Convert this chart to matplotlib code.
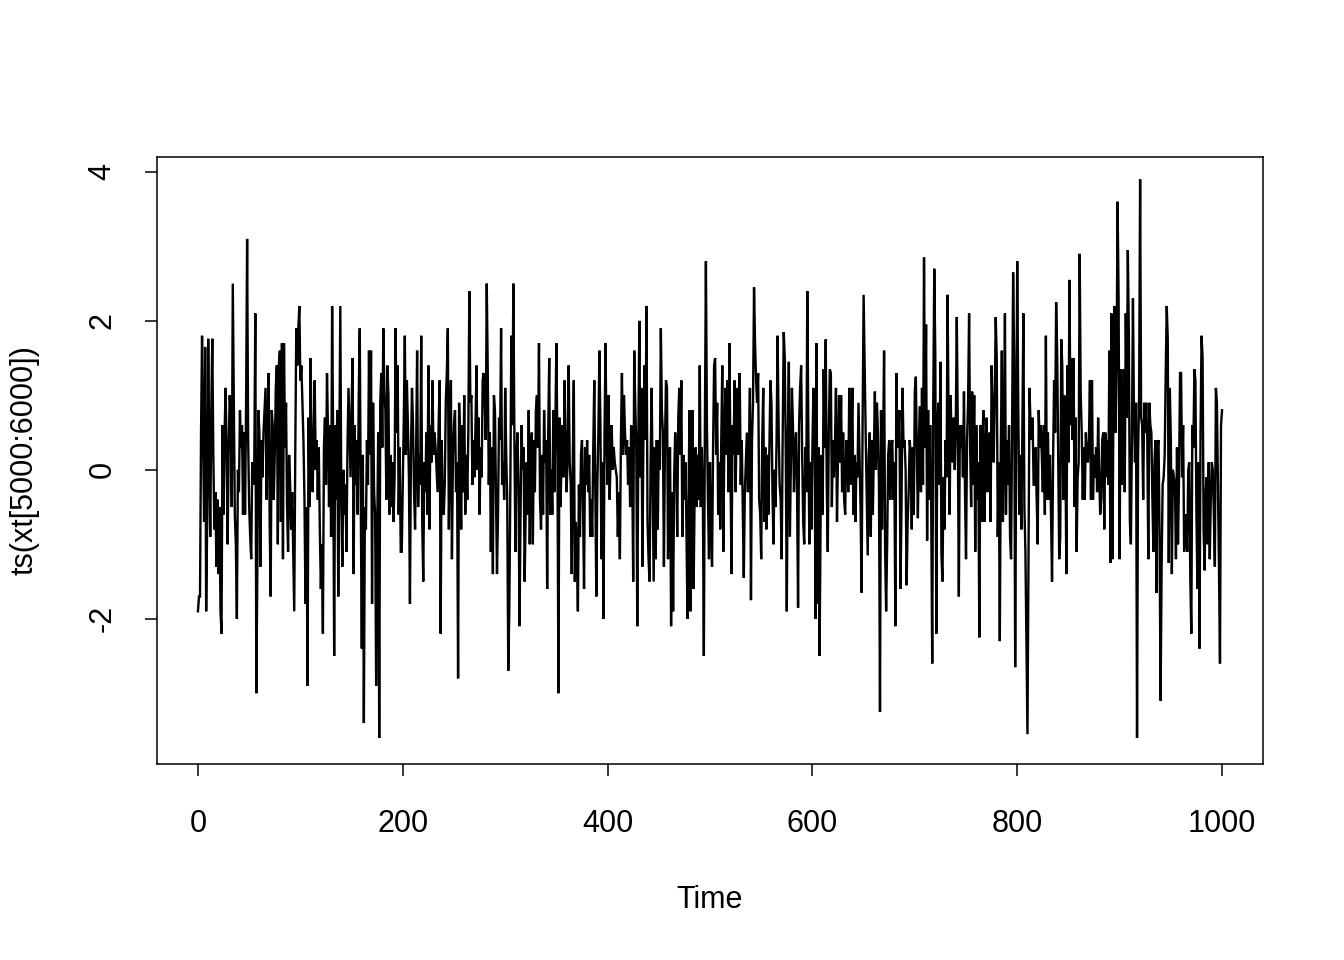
import numpy as np
import matplotlib
matplotlib.use("Agg")
import matplotlib.pyplot as plt

plt.rcParams['font.family'] = ['Liberation Sans', 'DejaVu Sans']

# Values of ts(xt[5000:6000]), in blocks of time
seg01 = [-1.9,-1.7,-1.7,0.5,1.8,0.4,-0.7,1.65,-1.9,-0.7,
         1.76,0.2,-0.9,0.8,1.76,0.2,-0.8,-0.3,-1.3,-0.4,
         -1.4,-0.5,-1.9,-2.2,0.6,-0.6,0.5,1.1,0.2,-1.0,
         0.3,1.0,0.7,-0.5,2.5,0.9,-0.6,-1.0,-2.0,0.0,
         -0.3,0.8,0.3,0.6,-0.6,0.5,-0.6,0.9,3.1,0.4,
         -0.5,-0.9,-1.2,0.1,-0.2,0.1,2.1,-3.0,-1.3,0.8,
         0.5,-1.3,0.4,-0.1,0.5,0.8,1.1,-0.4,0.6,1.3,
         -0.7,-1.7,0.8,0.6,-0.4,0.2,1.1,1.4,-1.0,1.4,
         1.6,-0.7]
seg02 = [1.7,-1.2,1.7,0.3,0.9,-0.5,-1.1,0.2,-0.2,-0.8,
         -0.3,-1.1,-1.9,0.2,1.9,1.4,1.9,2.2,1.2,1.4,
         0.9,0.4,-0.4,-1.8,-0.5,-2.9,0.7,-0.5,1.5,0.2,
         -0.3,0.5,1.2,0.0,0.4,-0.4,0.3,-0.8,-1.6,-1.0,
         -2.2,0.3,0.7,-0.2,1.3,0.5,-0.5,0.6,-0.9,2.2,
         0.4,-2.5,0.6,-0.4,0.8,-1.7,0.3,2.2,-0.5,-1.3,
         0.0,-0.6,-0.2,-1.1,0.3,1.1,0.5,-0.1,0.8,1.5,
         -1.4,0.6,-0.2,0.4,-0.6,1.0,1.9,-0.5,-2.4,0.2,
         -3.4,-0.5,-0.8,0.4,-0.2,1.6,0.2]
seg03 = [1.6,-1.8,0.9,-0.3,-0.6,-2.9,-0.9,0.5,-3.6,0.9,
         1.3,0.3,1.9,1.1,0.8,-0.4,1.4,1.0,-0.6,0.2,
         -0.5,0.1,-0.7,-0.1,1.9,0.5,1.4,-0.6,0.3,-1.1,
         -1.1,-0.2,0.7,1.8,0.2,1.2,0.6,-0.1,-1.8,0.3,
         1.1,0.6,-0.3,-0.8,0.2,1.6,-0.5,0.2,-0.2,1.8,
         -0.7,-1.5,0.1,-0.3,0.5,-0.6,1.4,-0.8,0.6,0.1,
         1.2,0.2,0.5,0.3,0.0,-0.3,0.6,1.2,-2.2,0.4,
         -0.4,-0.6,-0.2,0.9,1.3,1.9,-0.8,0.3,1.2,-1.2,
         0.2,0.6,0.8,-0.3,0.1,-2.8,0.9,0.4]
seg04 = [-0.8,0.6,-0.3,1.0,-0.6,0.2,-0.4,0.5,2.4,0.9,
         1.0,-0.2,0.4,-0.1,0.6,1.4,0.0,0.7,-0.6,0.3,
         -0.1,1.2,1.3,0.9,0.4,2.5,1.3,-0.2,0.5,-1.1,
         0.3,-1.4,1.0,0.8,-0.3,-1.4,-0.6,0.7,0.4,1.9,
         -0.2,0.1,-0.4,1.1,0.2,-0.4,-2.7,-1.9,-0.3,1.8,
         0.6,2.5,0.4,-1.1,0.2,0.5,-0.2,-2.1,-0.6,0.6,
         0.0,0.3,-1.5,-0.6,0.1,-0.6,0.8,-1.0,0.2,0.5,
         -1.0,0.4,-0.3,0.8,1.0,0.3,1.7,-0.4,-0.8,0.2,
         -0.6,0.8,0.1,0.4,-1.6,0.5,1.5,-0.6]
seg05 = [0.0,-0.6,0.8,-0.3,0.6,1.7,0.3,-3.0,0.7,-0.5,
         0.1,0.6,-0.1,1.2,0.4,-0.3,0.2,1.4,0.1,-0.2,
         -1.4,0.1,1.2,-1.5,-0.7,-1.1,-1.9,-0.2,-0.9,0.2,
         0.4,-0.5,-1.6,0.3,-0.2,0.4,-0.3,0.2,-0.9,-0.4,
         -0.9,0.3,1.2,-0.3,-1.7,-0.2,0.5,1.6,0.6,-1.2,
         0.1,-2.0,0.5,1.7,0.3,-0.2,1.0,-0.4,0.2,0.6,
         0.0,0.3,0.1,0.0,-0.1,-0.9,-0.3,-1.2,0.4,1.3,
         0.2,1.0,0.5,0.2,0.4,-0.2,0.3,-0.5,0.6,0.1,
         -1.5,1.6,0.9,0.3,-2.1,0.4,2.0,-0.1]
seg06 = [1.1,-1.3,0.5,1.4,0.4,2.2,-0.7,-1.2,-1.5,0.1,
         1.1,-0.2,-1.5,0.3,-1.2,0.4,-0.8,0.4,0.0,1.9,
         0.8,0.5,-1.3,0.3,1.2,1.1,-1.2,0.2,0.3,-2.1,
         -0.3,-1.9,-0.1,0.5,0.1,-0.9,0.7,1.1,0.2,1.2,
         -0.9,0.2,-0.4,0.1,-0.8,-2.0,-0.4,0.8,-1.9,0.3,
         0.8,-1.6,-0.3,0.3,-0.5,0.2,-0.4,1.4,-0.5,0.3,
         -0.3,-2.5,0.6,2.8,0.6,-0.4,-1.2,0.1,-0.8,-1.3,
         0.3,1.4,1.5,0.2,0.9,-0.6,0.1,-0.8,0.4,1.4,
         -1.1,0.4,1.1,0.2,1.2,-0.3,1.7,0.0]
seg07 = [-1.4,0.6,0.2,1.2,-0.3,0.6,1.1,0.2,1.3,-0.2,
         0.4,-0.5,-1.45,-0.3,0.1,0.5,-0.3,0.2,1.1,-1.75,
         0.4,0.9,2.45,1.7,1.2,0.9,1.3,-0.4,-0.6,-1.2,
         0.4,1.1,-0.7,0.3,-0.8,0.2,-0.6,0.3,1.2,0.9,
         -0.3,-1.0,0.0,-0.5,0.4,1.8,0.6,-0.2,-0.4,-1.2,
         0.5,1.85,1.5,0.2,-1.9,0.4,1.45,-0.9,0.1,1.1,
         0.6,-0.3,0.3,0.5,-0.3,-1.85,0.6,1.1,1.4,0.2,
         -0.7,-1.0,0.3,-0.3,2.4,0.6,-1.0,0.1,-0.8,0.3,
         1.1,0.9,-2.0,1.7,-1.8,0.3,-2.5]
seg08 = [-0.65,0.2,-0.6,1.35,0.3,1.75,-0.2,-1.1,0.5,1.35,
         1.3,-0.5,0.4,-0.1,0.3,1.1,-0.7,0.2,1.0,0.1,
         1.0,-0.3,0.5,-0.4,-0.6,0.4,0.3,-0.3,1.1,-0.2,
         0.3,1.1,-0.6,0.2,-0.7,0.1,-0.1,0.9,0.2,-0.5,
         -1.65,0.6,2.35,1.4,0.5,-0.3,-1.15,0.2,0.5,-0.9,
         0.4,-0.6,0.2,1.05,0.0,0.9,0.5,-0.2,-3.25,0.8,
         -0.8,0.3,1.6,-1.1,-1.9,-1.0,0.2,0.4,-0.4,0.3,
         0.4,-0.4,0.1,-2.1,1.3,0.3,0.5,0.8,-1.6,-0.5,
         1.1,0.3,0.4,0.0,-1.55,-0.7,-0.3,0.4]
seg09 = [0.2,-0.8,0.3,-0.6,1.05,1.25,0.2,-0.65,0.4,0.85,
         -0.3,1.1,-0.2,2.85,0.3,1.95,-0.95,0.8,-0.4,0.6,
         -0.5,-2.6,0.9,2.7,1.55,-2.2,0.6,0.9,-0.2,1.45,
         -1.15,-1.5,-0.1,-0.8,0.4,-0.1,2.35,0.6,-0.6,1.0,
         0.3,0.1,0.7,0.0,0.6,2.05,0.5,-1.7,0.6,0.3,
         0.6,-0.1,1.05,-0.3,-1.2,0.4,0.9,2.1,0.3,-0.5,
         1.05,-0.2,1.0,-1.1,0.6,-0.4,0.1,-2.25,0.6,-0.7,
         0.4,0.8,-0.7,0.2,0.7,-0.3,0.2,0.5,-0.7,1.4,
         0.8,0.1,0.9,2.05,1.5,-0.9,0.1,-2.3]
seg10 = [0.3,1.6,-0.7,0.2,2.1,-0.6,0.4,-0.2,0.6,-0.9,
         -1.2,0.6,2.65,1.5,-2.65,0.4,2.8,0.9,-0.6,0.2,
         -0.8,0.5,2.1,-0.5,-1.1,-2.3,-3.55,-1.2,1.1,0.6,
         0.4,0.7,-0.2,-0.2,0.3,-0.4,-1.0,0.8,0.3,0.6,
         0.2,-0.3,0.6,-0.6,1.8,-0.4,0.5,-0.4,0.2,-0.6,
         -1.5,0.1,1.2,0.5,2.25,1.6,0.2,-1.2,-0.9,1.75,
         1.4,-0.4,1.0,0.3,-1.4,1.4,0.1,2.55,0.6,1.5,
         0.4,1.5,-0.5,0.7,-1.1,-0.1,0.1,2.9,1.0,0.5,
         -0.4,0.3,-0.4,0.5,0.2,0.1,0.4,1.2,-0.4]
seg11 = [1.2,-0.4,0.2,-0.1,0.3,-0.3,0.7,0.0,-0.6,-0.4,
         0.4,0.5,-0.8,0.5,-0.1,0.4,-0.2,1.6,-1.25,2.1,
         -1.2,1.0,2.2,0.5,1.4,3.6,2.3,-1.2,1.35,-0.2,
         0.2,1.35,-0.3,2.1,0.7,2.95,1.8,-0.7,-1.0,0.4,
         2.3,0.8,0.1,0.9,-3.6,0.2,1.0,3.9,0.7,0.6,
         -0.4,0.9,0.5,0.9,0.4,-1.2,0.9,0.6,0.5,-0.4,
         -1.1,0.1,0.4,-1.65,0.3,0.4,-0.9,-3.1,-1.3,-0.2,
         -0.1,0.2,1.3,2.2,1.76,-1.25,1.1,0.4,-1.4,0.0,
         -0.1,-0.2,-1.2,0.3,-1.0,-0.1,1.3]
seg12 = [1.3,-0.1,0.6,-1.1,-0.6,-0.7,-1.1,0.0,0.1,-1.45,
         -2.2,0.6,0.3,1.35,1.2,-0.6,-1.6,0.1,-2.4,0.5,
         1.8,1.5,-0.8,-1.35,-0.3,-0.1,-1.0,0.1,-1.2,-0.4,
         0.1,0.0,-0.6,-1.3,1.1,0.9,-0.2,-1.3,-2.6,0.6,
         0.8]

values = np.array(seg01 + seg02 + seg03 + seg04 + seg05 + seg06 +
                  seg07 + seg08 + seg09 + seg10 + seg11 + seg12)
time = np.arange(len(values))

x_ticks = [0, 200, 400, 600, 800, 1000]
y_ticks = [-2, 0, 2, 4]
x_label = "Time"
y_label = "ts(xt[5000:6000])"

FS = 22

fig = plt.figure(figsize=(13.44, 9.6), dpi=100)
ax = fig.add_axes([157/1344, 1 - 764/960, (1263-157)/1344, (764-157)/960])
ax.plot(time, values, color='black', lw=1.7, solid_joinstyle='miter')

ax.set_xlim(-40, 1040)
ax.set_ylim(-3.95, 4.2)
ax.set_xticks(x_ticks)
ax.set_yticks(y_ticks)
ax.set_xticklabels([str(v) for v in x_ticks])
ax.set_yticklabels([str(v) for v in y_ticks], rotation=90, va='center')

for sp in ax.spines.values():
    sp.set_linewidth(1.1)
    sp.set_color('black')

ax.tick_params(axis='both', direction='out', length=8.6, width=1.1,
               labelsize=FS, colors='black')
ax.tick_params(axis='x', pad=24)
ax.tick_params(axis='y', pad=20)

ax.set_xlabel(x_label, fontsize=FS)
ax.xaxis.label.set_va('center')
ax.xaxis.set_label_coords(0.5, (764 - 900) / 607)
ax.set_ylabel(y_label, fontsize=FS)
ax.yaxis.label.set_va('center')
ax.yaxis.set_label_coords((25 - 157) / 1106, 0.5)

fig.savefig("out.png", dpi=100)
